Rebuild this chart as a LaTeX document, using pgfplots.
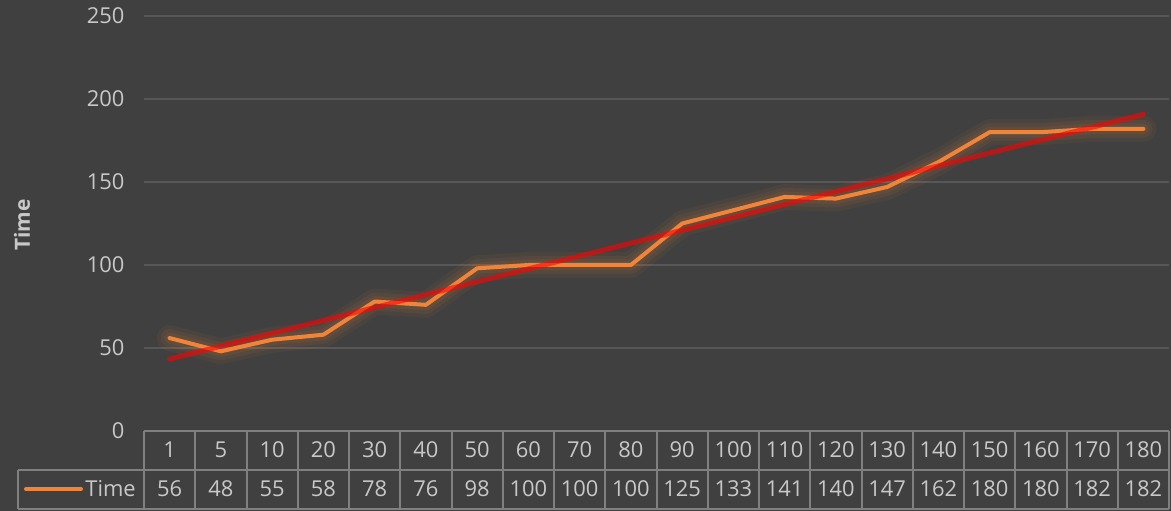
\documentclass[border=0pt]{standalone}
\usepackage{fontspec}
\setmainfont{Open Sans}
\usepackage{pgfplots}
\usepackage{pgfplotstable}
\pgfplotsset{compat=1.18}
\definecolor{bg}{HTML}{404040}
\definecolor{txt}{HTML}{C8C8C8}
\definecolor{grd}{HTML}{575757}
\definecolor{tbl}{HTML}{808080}
\definecolor{org}{HTML}{F0853A}
\pgfplotstableread{
idx cat time
0 1 56
1 5 48
2 10 55
3 20 58
4 30 78
5 40 76
6 50 98
7 60 100
8 70 100
9 80 100
10 90 125
11 100 133
12 110 141
13 120 140
14 130 147
15 140 162
16 150 180
17 160 180
18 170 182
19 180 182
}\datatable
\pgfplotstableread{
idx trend
0 43.34
19 190.76
}\trendtable
\begin{document}
\begin{tikzpicture}
\fill[bg] (0,0) rectangle (1171bp,511bp);
\begin{axis}[
  at={(144bp,80bp)}, anchor=south west,
  scale only axis, width=1025bp, height=415bp,
  xmin=-0.5, xmax=19.5, ymin=0, ymax=250,
  ytick={0,50,...,250},
  xtick={0,...,19},
  xticklabels from table={\datatable}{cat},
  axis line style={draw=none},
  major tick length=0pt,
  tick style={draw=none},
  ymajorgrids, grid style={grd, line width=1.5bp},
  clip=false,
  /pgf/number format/assume math mode=true,
  ticklabel style={txt, font=\fontsize{22}{26}\selectfont},
  yticklabel style={xshift=-16bp},
  xticklabel style={anchor=center, yshift=-19bp},
  every node near coord/.append style={anchor=center, txt, font=\fontsize{22}{26}\selectfont},
]
% glow
\addplot[org, opacity=0.06, line width=26bp, line join=round, line cap=round] table[x=idx, y=time] {\datatable};
\addplot[org, opacity=0.07, line width=18bp, line join=round, line cap=round] table[x=idx, y=time] {\datatable};
\addplot[org, opacity=0.09, line width=11bp, line join=round, line cap=round] table[x=idx, y=time] {\datatable};
% main line
\addplot[org, line width=4bp, line join=round, line cap=round] table[x=idx, y=time] {\datatable};
% trend line
\addplot[red, opacity=0.6, line width=5bp, line cap=round] table[x=idx, y=trend] {\trendtable};
% values row
\addplot[draw=none, mark=none, nodes near coords, point meta=explicit] table[x=idx, y expr=-34.9, meta=time] {\datatable};
\end{axis}
% table grid
\foreach \k in {0,...,20} {
  \draw[tbl, line width=2bp] ({144bp+51.25bp*\k},80bp) -- ({144bp+51.25bp*\k},2bp);
}
\draw[tbl, line width=2bp] (144bp,80bp) -- (1169bp,80bp);
\draw[tbl, line width=2bp] (17.7bp,41bp) -- (1169bp,41bp);
\draw[tbl, line width=2bp] (17.7bp,2bp) -- (1169bp,2bp);
\draw[tbl, line width=2bp] (17.7bp,41bp) -- (17.7bp,2bp);
% legend
\draw[org, line width=4bp, line cap=round] (26bp,22bp) -- (81bp,22bp);
\node[anchor=east, txt, font=\fontsize{22}{26}\selectfont, inner sep=0pt] at (136bp,22bp) {Time};
% y label
\node[rotate=90, txt, font=\fontsize{21}{25}\selectfont\bfseries] at (22bp,286bp) {Time};
\pgfresetboundingbox
\path (0,0) rectangle (1171bp,511bp);
\end{tikzpicture}
\end{document}
